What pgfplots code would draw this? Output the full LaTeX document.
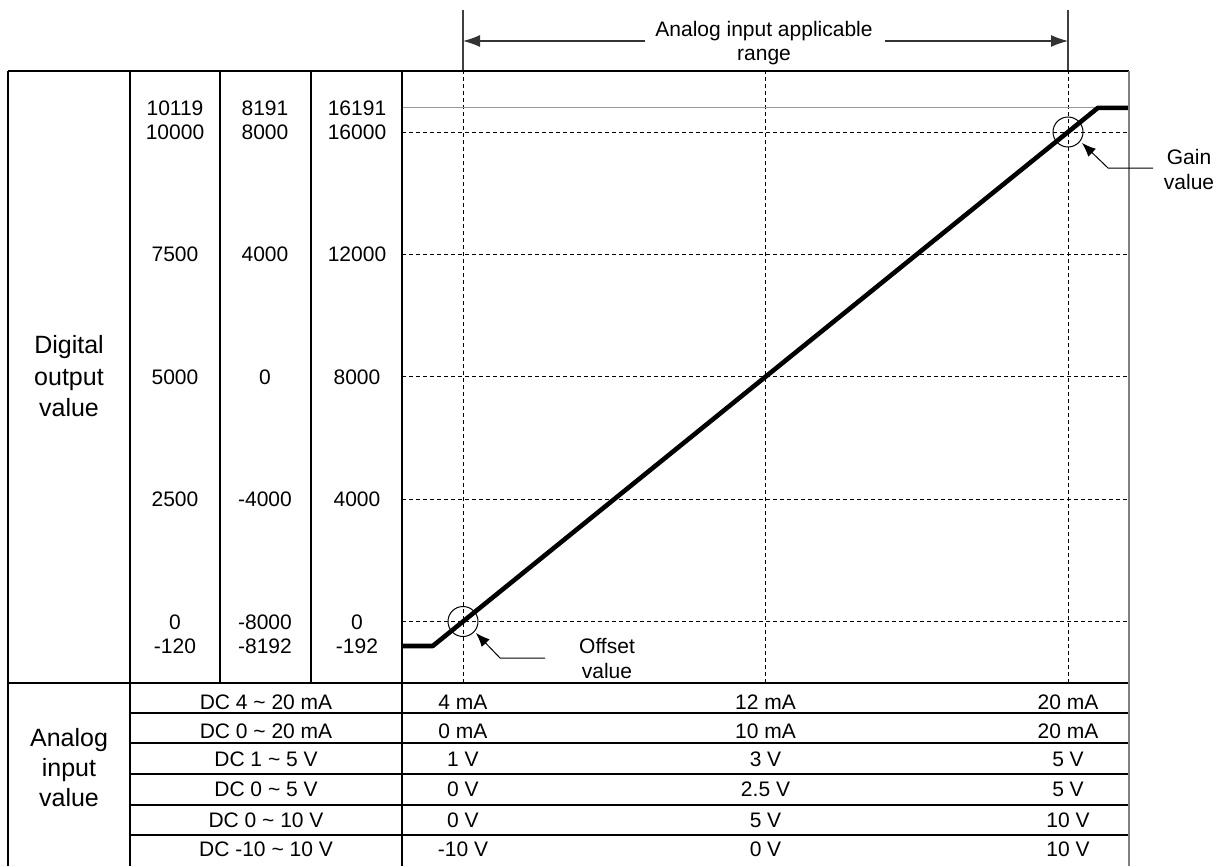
\documentclass[border=0pt]{standalone}
\usepackage{pgfplots}
\pgfplotsset{compat=1.18}
\usepackage{fontspec}
\setmainfont{Liberation Sans}
\usetikzlibrary{arrows.meta}
\begin{document}
\begin{tikzpicture}
\begin{scope}[x=0.5pt,y=-0.5pt]
\path[use as bounding box] (0,0) rectangle (1225,866);
\end{scope}
\begin{axis}[at={(201pt,-341.5pt)}, anchor=south west,
  width=363.5pt, height=306pt, scale only axis,
  xmin=-10.083, xmax=110.08, ymin=-2010, ymax=17994,
  axis line style={draw=none},
  scaled x ticks=false, scaled y ticks=false,
  xtick={0,50,100}, ytick={0,4000,8000,12000,16000},
  xticklabels={}, yticklabels={}, major tick length=0pt,
  grid=major,
  major grid style={black, line width=0.5pt, dash pattern=on 2pt off 1.5pt}]
\addplot[gray!80, line width=0.6pt] coordinates {(-10.083,16790) (104.94,16790)};
\addplot[black, line width=2.3pt, line join=round] coordinates {(-10.083,-800) (-5,-800) (104.94,16790) (110.08,16790)};
\end{axis}
\begin{scope}[x=0.5pt,y=-0.5pt, line width=0.6pt,
  t/.style={inner sep=0pt, font=\fontsize{10.5pt}{12pt}\selectfont, text height=7.52pt, text depth=0pt},
  b/.style={inner sep=0pt, font=\fontsize{12.5pt}{14pt}\selectfont, text height=8.95pt, text depth=0pt}]
% top range arrow
\draw[black!75] (463,10) -- (463,71);
\draw[black!75] (1068,10) -- (1068,71);
\draw[black!80, -{Latex[length=8.5pt,width=6pt]}] (645,41) -- (463,41);
\draw[black!80, -{Latex[length=8.5pt,width=6pt]}] (885,41) -- (1068,41);
\node[t] at (764,29) {Analog input applicable};
\node[t] at (764,53) {range};
% table lines
\draw (8,71) -- (1129,71);
\draw (8,71) -- (8,866);
\draw (130,71) -- (130,866);
\draw (220,71) -- (220,683);
\draw (311,71) -- (311,683);
\draw (402,71) -- (402,866);
\draw (8,683) -- (1129,683);
\foreach \yy in {713,743,774,805,835} \draw (130,\yy) -- (1129,\yy);
\draw[gray, line width=0.8pt] (1129,71) -- (1129,866);
% digital values
\foreach \yy/\a/\b/\c in {108/10119/8191/16191, 132/10000/8000/16000, 254/7500/4000/12000, 377/5000/0/8000, 499/2500/-4000/4000, 621.5/0/-8000/0, 646/-120/-8192/-192}{
  \node[t] at (175,\yy) {\a};
  \node[t] at (265,\yy) {\b};
  \node[t] at (357,\yy) {\c};
}
\node[b] at (69,345) {Digital};
\node[b] at (69,377) {output};
\node[b] at (69,408) {value};
\node[b] at (69,738) {Analog};
\node[b] at (69,768) {input};
\node[b] at (69,798) {value};
% analog table
\foreach \yy/\n/\a/\b/\c in {702/DC 4 \textasciitilde{} 20 mA/4 mA/12 mA/20 mA,
  731/DC 0 \textasciitilde{} 20 mA/0 mA/10 mA/20 mA,
  759/DC 1 \textasciitilde{} 5 V/1 V/3 V/5 V,
  789/DC 0 \textasciitilde{} 5 V/0 V/2.5 V/5 V,
  820/DC 0 \textasciitilde{} 10 V/0 V/5 V/10 V,
  849/DC -10 \textasciitilde{} 10 V/-10 V/0 V/10 V}{
  \node[t] at (266,\yy) {\n};
  \node[t] at (463,\yy) {\a};
  \node[t] at (765.5,\yy) {\b};
  \node[t] at (1068,\yy) {\c};
}
% circles and leaders
\draw[line width=0.5pt] (463,621.5) circle[radius=7.5pt];
\draw[line width=0.5pt] (1068,132) circle[radius=7.5pt];
\draw[line width=0.5pt, -{Latex[length=7pt,width=5.5pt]}] (545,658) -- (500,658) -- (476,633);
\draw[line width=0.5pt, -{Latex[length=7pt,width=5.5pt]}] (1153,168) -- (1108,168) -- (1082,143);
\node[t] at (607,646) {Offset};
\node[t] at (607,671) {value};
\node[t] at (1189,157) {Gain};
\node[t] at (1189,182) {value};
\end{scope}
\end{tikzpicture}
\end{document}
